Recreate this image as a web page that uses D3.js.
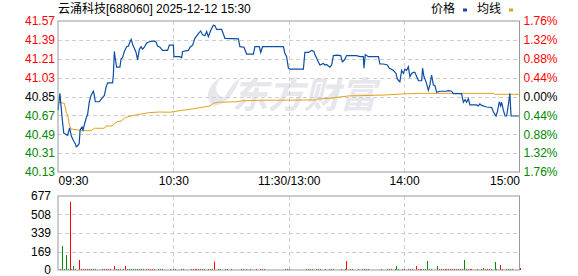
<!doctype html>
<html>
<head>
<meta charset="utf-8">
<style>
  body { margin: 0; background: #fff; }
  svg { display: block; }
  text { font-family: "Liberation Sans", Arial, "Noto Sans CJK SC", sans-serif; font-size: 12px; }
</style>
</head>
<body>
  <svg id="chart"></svg>
<script src="https://d3js.org/d3.v7.min.js"></script>
<script>
// ---- data ----
const title = "云涌科技[688060] 2025-12-12 15:30";
const prevClose = 40.85;
const priceTicks = [41.57, 41.39, 41.21, 41.03, 40.85, 40.67, 40.49, 40.31, 40.13];
const pctTicks = ["1.76%", "1.32%", "0.88%", "0.44%", "0.00%", "0.44%", "0.88%", "1.32%", "1.76%"];
const timeTicks = [0, 60, 120, 180, 240];
const timeLabels = ["09:30", "10:30", "11:30/13:00", "14:00", "15:00"];
const volTicks = [0, 169, 339, 508, 677];

// minutes since 09:30 (trading minutes), price
const priceTime = [0, 1, 2, 3, 5, 6, 7, 8, 9, 9.5, 10.2, 11, 11.5, 12.5, 13, 13.7, 14.6, 15.4, 16.3, 17.2,
  18.4, 18.9, 19.4, 21.5, 22.3, 23.2, 24.1, 25, 25.8, 28.4, 28.8, 29.3, 29.8, 30.5, 32.2, 32.8, 33.6, 34.5,
  35.7, 36.6, 37.4, 38.1, 38.9, 39.7, 40.6, 41.4, 42.3, 43.2, 44, 44.9, 46.1, 47.1, 50, 51, 51.8, 53, 54.4,
  57, 57.9, 60, 60.3, 63.4, 64.3, 64.8, 67.8, 68.7, 70, 71.2, 73, 74.2, 75.1, 76.4, 77.3, 78.2, 79, 79.9,
  80.8, 81.6, 82.5, 85.1, 86.8, 93.8, 94.6, 96.7, 98.1, 101.6, 102.4, 104.7, 105.4, 106.4, 117.2, 118,
  118.9, 119.8, 120.6, 127.6, 128.4, 130.2, 131, 131.9, 133.1, 133.6, 135.4, 136.2, 138, 138.8, 139.7,
  140.6, 141.4, 142.3, 143.2, 145, 147, 147.9, 149, 150.1, 155.3, 157, 158.8, 159.1, 159.8, 160.5, 161.4,
  166.6, 167.4, 169.2, 171.3, 172.3, 174.4, 175.8, 176.4, 177.2, 177.8, 178.7, 179.6, 180.4, 181.3, 182.2,
  183, 183.9, 184.8, 185.6, 186.5, 187.4, 189.1, 189.6, 190.3, 191.4, 192.6, 193.4, 194.3, 195.2, 196,
  196.9, 198.6, 202.1, 203, 204.7, 205.6, 209.9, 210.8, 211.7, 212.5, 213.4, 214.2, 217.7, 218.6, 219.4,
  220.3, 222.9, 225.5, 226.4, 227.8, 228.5, 229.5, 230.2, 230.7, 231.6, 232.5, 233.3, 234.2, 235, 235.6, 240];
const priceValue = [40.72, 40.88, 40.67, 40.50, 40.48, 40.55, 40.47, 40.43, 40.40, 40.37, 40.38, 40.40, 40.53,
  40.56, 40.53, 40.58, 40.64, 40.68, 40.80, 40.86, 40.90, 40.86, 40.80, 40.80, 40.82, 40.84, 40.86, 40.94,
  40.98, 40.98, 41.06, 41.28, 41.21, 41.13, 41.13, 41.21, 41.22, 41.28, 41.325, 41.33, 41.37, 41.395, 41.34,
  41.31, 41.27, 41.20, 41.30, 41.325, 41.30, 41.32, 41.36, 41.37, 41.38, 41.37, 41.33, 41.32, 41.29, 41.29,
  41.34, 41.34, 41.23, 41.23, 41.22, 41.28, 41.29, 41.32, 41.34, 41.405, 41.45, 41.475, 41.44, 41.43, 41.47,
  41.42, 41.46, 41.50, 41.53, 41.525, 41.49, 41.49, 41.405, 41.40, 41.325, 41.32, 41.255, 41.255, 41.325,
  41.325, 41.27, 41.325, 41.325, 41.26, 41.23, 41.12, 41.112, 41.112, 41.27, 41.27, 41.28, 41.29, 41.28,
  41.25, 41.18, 41.15, 41.165, 41.15, 41.155, 41.14, 41.13, 41.15, 41.24, 41.245, 41.24, 41.18, 41.20, 41.24,
  41.24, 41.23, 41.23, 41.12, 41.25, 41.24, 41.23, 41.23, 41.16, 41.16, 41.15, 41.12, 41.10, 41.07, 41.02,
  41.00, 40.99, 41.10, 41.07, 41.11, 41.10, 41.134, 41.04, 41.07, 41.08, 41.08, 41.04, 41.00, 41.00, 41.12,
  41.04, 40.99, 40.91, 40.96, 41.055, 40.96, 40.955, 40.89, 40.90, 40.90, 40.905, 40.90, 40.877, 40.877,
  40.795, 40.82, 40.795, 40.83, 40.77, 40.77, 40.76, 40.78, 40.765, 40.75, 40.745, 40.705, 40.664, 40.705,
  40.80, 40.76, 40.795, 40.72, 40.664, 40.664, 40.77, 40.88, 40.664, 40.664];

// average price line
const avgTime = [0, 3.3, 4.2, 5, 5.9, 6.8, 12.8, 17.2, 18.9, 24.1, 25, 28.4, 29.3, 31, 32.8, 34.5, 36.2, 42.3,
  47.5, 52.7, 58.2, 63.4, 68.7, 73.9, 79, 80.8, 83.4, 93, 94.6, 104.2, 134.5, 134.9, 141.4, 151, 170.9,
  179.6, 189.1, 226.4, 227.3, 239.4, 240];
const avgValue = [40.795, 40.785, 40.705, 40.674, 40.578, 40.54, 40.524, 40.524, 40.547, 40.547, 40.569,
  40.569, 40.594, 40.61, 40.616, 40.642, 40.657, 40.68, 40.696, 40.702, 40.70, 40.715, 40.728, 40.744,
  40.76, 40.785, 40.795, 40.80, 40.807, 40.814, 40.817, 40.826, 40.833, 40.855, 40.865, 40.875, 40.88,
  40.88, 40.871, 40.871, 40.858];

// volume per minute (lots); up = 1 red, 0 green
const volTime = [1, 2, 3, 4, 5, 6, 7, 8, 9, 11, 12, 13, 14, 15, 16, 17, 18, 19, 23, 24, 25, 26, 27, 29, 30, 31,
  32, 34, 35, 36, 37, 38, 39, 40, 41, 42, 43, 44, 46, 47, 48, 49, 50, 52, 53, 54, 58, 60, 61, 64, 65, 69, 70,
  71, 72, 73, 74, 75, 76, 78, 79, 80, 81, 83, 84, 87, 88, 90, 95, 96, 98, 100, 103, 105, 106, 107, 118, 119,
  120, 129, 130, 131, 132, 134, 135, 136, 139, 141, 142, 143, 147, 149, 150, 152, 153, 156, 158, 159, 160,
  161, 168, 171, 172, 173, 175, 176, 177, 179, 180, 182, 183, 184, 186, 187, 188, 189, 190, 191, 192, 193,
  194, 197, 198, 199, 200, 201, 202, 203, 204, 205, 206, 207, 208, 209, 210, 211, 212, 213, 214, 215, 218,
  220, 221, 222, 223, 224, 225, 227, 228, 230, 231, 233, 234, 235, 236, 240];
const volValue = [10, 219, 10, 137, 10, 625, 10, 37, 10, 91, 10, 10, 10, 10, 10, 10, 10, 10, 10, 10, 10, 10,
  10, 37, 10, 10, 10, 10, 37, 10, 10, 10, 10, 10, 10, 10, 10, 10, 10, 10, 10, 10, 10, 10, 10, 10, 10, 10, 10,
  10, 10, 10, 10, 10, 10, 10, 10, 10, 10, 10, 10, 10, 77, 10, 10, 10, 10, 10, 10, 10, 10, 10, 10, 10, 10, 10,
  10, 10, 10, 10, 10, 10, 10, 10, 10, 10, 10, 10, 10, 10, 10, 10, 82, 10, 10, 10, 10, 10, 10, 10, 10, 10, 10,
  10, 10, 37, 10, 10, 10, 10, 10, 10, 37, 10, 10, 10, 10, 10, 82, 10, 10, 37, 10, 10, 10, 10, 10, 10, 10, 10,
  10, 10, 10, 10, 10, 91, 10, 10, 10, 10, 10, 10, 18, 10, 10, 10, 10, 73, 10, 46, 10, 10, 10, 10, 10, 18];
const volUp = [1, 0, 0, 0, 0, 1, 0, 0, 1, 1, 1, 1, 1, 1, 1, 1, 1, 0, 1, 1, 1, 1, 1, 1, 0, 0, 1, 1, 1, 0, 0, 0,
  0, 0, 0, 0, 0, 1, 1, 1, 1, 1, 1, 0, 0, 1, 1, 0, 0, 0, 1, 1, 1, 1, 1, 1, 1, 0, 1, 1, 1, 1, 1, 0, 0, 0, 1, 1,
  0, 0, 0, 1, 1, 1, 1, 0, 0, 0, 0, 1, 0, 1, 1, 0, 0, 0, 1, 0, 0, 1, 0, 0, 1, 0, 1, 1, 0, 0, 1, 0, 0, 0, 0, 1,
  0, 0, 0, 1, 1, 1, 1, 0, 1, 1, 1, 1, 1, 0, 0, 0, 0, 0, 1, 1, 1, 1, 1, 1, 1, 1, 1, 1, 1, 1, 0, 0, 1, 1, 1, 1,
  0, 1, 0, 1, 1, 1, 1, 0, 0, 1, 0, 0, 1, 0, 1, 1];

// ---- layout ----
const width = 578, height = 276;
const left = 58, right = 519.5;
const mainTop = 21, mainBottom = 172;
const volTop = 196, volBottom = 270;
const red = "#ff0000", green = "#008800";

const svg = d3.select("#chart").attr("width", width).attr("height", height);

const x = d3.scaleLinear().domain([0, 240]).range([left, right]);
const y = d3.scaleLinear().domain([40.13, 41.57]).range([mainBottom, mainTop]);
const yv = d3.scaleLinear().domain([0, 677]).range([volBottom, volTop]);

// watermark
const wm = svg.append("g").attr("fill", "#e6e6ec");
wm.append("path")
  .attr("d", "M214,106 C204,100 206,86 222,76 C214,86 214,94 224,98 C230,88 234,82 240,78 C236,90 228,104 214,106 Z");
wm.append("text")
  .attr("x", 232).attr("y", 108)
  .style("font-family", "'Noto Sans CJK SC', sans-serif")
  .style("font-size", "36px").style("font-weight", "bold").style("font-style", "italic")
  .text("东方财富");

// grid
function hgrid(vals, scale) {
  svg.append("g").selectAll("line").data(vals).enter().append("line")
    .attr("x1", left).attr("x2", right)
    .attr("y1", d => Math.round(scale(d)) + 0.5).attr("y2", d => Math.round(scale(d)) + 0.5)
    .attr("stroke", "#cfcfcf").attr("stroke-dasharray", "4,3");
}
function vgrid(t0, t1) {
  svg.append("g").selectAll("line").data([60, 120, 180]).enter().append("line")
    .attr("x1", d => Math.round(x(d)) + 0.5).attr("x2", d => Math.round(x(d)) + 0.5)
    .attr("y1", t0).attr("y2", t1)
    .attr("stroke", "#cfcfcf").attr("stroke-dasharray", "4,3");
}
hgrid(priceTicks.slice(1, -1), y);
vgrid(mainTop, mainBottom);
hgrid(volTicks.slice(1, -1), yv);
vgrid(volTop, volBottom);

// avg line
svg.append("path")
  .datum(avgTime.map((t, i) => [t, avgValue[i]]))
  .attr("fill", "none").attr("stroke", "#e0a21e").attr("stroke-width", 1)
  .attr("d", d3.line().x(d => x(d[0])).y(d => y(d[1])));

// price line
svg.append("path")
  .datum(priceTime.map((t, i) => [t, priceValue[i]]))
  .attr("fill", "none").attr("stroke", "#0c4ea2").attr("stroke-width", 1.2)
  .attr("d", d3.line().x(d => x(d[0])).y(d => y(d[1])));

// volume bars
svg.append("g").selectAll("rect").data(volTime).enter().append("rect")
  .attr("x", d => Math.round(x(d)))
  .attr("width", 1)
  .attr("y", (d, i) => yv(volValue[i]))
  .attr("height", (d, i) => volBottom - yv(volValue[i]))
  .attr("fill", (d, i) => volUp[i] ? red : green);

// frames
svg.append("rect").attr("x", left).attr("y", mainTop).attr("width", right - left).attr("height", mainBottom - mainTop)
  .attr("fill", "none").attr("stroke", "#999");
svg.append("rect").attr("x", left).attr("y", volTop).attr("width", right - left).attr("height", volBottom - volTop)
  .attr("fill", "none").attr("stroke", "#999");

// axes
function labelColor(v) { return v > prevClose + 1e-9 ? red : (v < prevClose - 1e-9 ? green : "#000"); }

const leftAxis = svg.append("g").attr("transform", `translate(${left - 2},0)`)
  .call(d3.axisLeft(y).tickValues(priceTicks).tickSize(0).tickPadding(1).tickFormat(d3.format(".2f")));
leftAxis.select(".domain").remove();
leftAxis.selectAll("text").attr("fill", d => labelColor(d)).style("font-size", "12px")
  .style("font-family", "'Liberation Sans', Arial, sans-serif");

const rightAxis = svg.append("g").attr("transform", `translate(${right + 3},0)`)
  .call(d3.axisRight(y).tickValues(priceTicks).tickSize(0).tickPadding(1).tickFormat((d, i) => pctTicks[i]));
rightAxis.select(".domain").remove();
rightAxis.selectAll("text").attr("fill", d => labelColor(d)).style("font-size", "12px")
  .style("font-family", "'Liberation Sans', Arial, sans-serif");

const timeAxis = svg.append("g").attr("transform", `translate(0,${mainBottom + 1})`)
  .call(d3.axisBottom(x).tickValues(timeTicks).tickSize(0).tickPadding(3).tickFormat((d, i) => timeLabels[i]));
timeAxis.select(".domain").remove();
timeAxis.selectAll("text").attr("fill", "#000").style("font-size", "12px")
  .style("font-family", "'Liberation Sans', Arial, sans-serif")
  .attr("text-anchor", (d, i) => i === 0 ? "start" : (i === timeTicks.length - 1 ? "end" : "middle"));

const volAxis = svg.append("g").attr("transform", `translate(${left - 6},0)`)
  .call(d3.axisLeft(yv).tickValues(volTicks).tickSize(0).tickPadding(1));
volAxis.select(".domain").remove();
volAxis.selectAll("text").attr("fill", "#000").style("font-size", "12px")
  .style("font-family", "'Liberation Sans', Arial, sans-serif");

// title and legend
svg.append("text").attr("x", 58).attr("y", 13).attr("fill", "#000")
  .style("font-family", "'Liberation Sans', 'Noto Sans CJK SC', sans-serif").text(title);

const legend = [["价格", "#0c4ea2", 431], ["均线", "#e0a21e", 477]];
legend.forEach(l => {
  svg.append("text").attr("x", l[2]).attr("y", 13).attr("fill", "#000")
    .style("font-family", "'Noto Sans CJK SC', sans-serif").text(l[0]);
  svg.append("rect").attr("x", l[2] + 32).attr("y", 8.5).attr("width", 4).attr("height", 3).attr("fill", l[1]);
});
</script>
</body>
</html>
